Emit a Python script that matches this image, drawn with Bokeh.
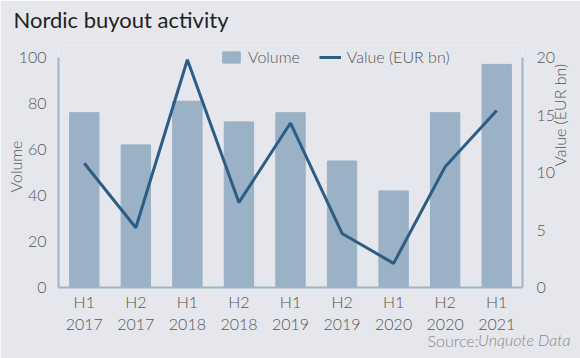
from math import pi
from bokeh.plotting import figure
from bokeh.models import LinearAxis, Range1d, Label, Legend, LegendItem, ColumnDataSource
from bokeh.embed import file_html
from bokeh.resources import INLINE

periods = ["H1\n2017", "H2\n2017", "H1\n2018", "H2\n2018", "H1\n2019",
           "H2\n2019", "H1\n2020", "H2\n2020", "H1\n2021"]
volume = [76, 62, 81, 72, 76, 55, 42, 76, 97]
value_eur_bn = [10.8, 5.2, 19.8, 7.4, 14.3, 4.7, 2.1, 10.5, 15.4]
volume_ticks = [0, 20, 40, 60, 80, 100]
value_ticks = [0, 5, 10, 15, 20]
VOL_MAX, VAL_MAX = 100, 20

BG = "#e6e7ed"
BAR = "#9ab1c6"
LINE = "#2c5d84"
AXIS = "#9ab6cc"
TXT = "#555555"
FONT = "Lato"
LIGHT = "Lato Light"
FS = "16px"

# plot area: axes span 230 px; frame is extended 12 px above so the legend is not clipped
AXIS_H, EXTRA_TOP = 230, 12
FRAME_H = AXIS_H + EXTRA_TOP
scale = FRAME_H / AXIS_H

src = ColumnDataSource(dict(x=periods, vol=volume, val=value_eur_bn))

p = figure(width=580, height=358, frame_width=464, frame_height=FRAME_H,
           x_range=periods, y_range=Range1d(0, VOL_MAX * scale),
           output_backend="svg", toolbar_location=None,
           background_fill_color=BG, border_fill_color=BG,
           min_border_left=58, min_border_right=58, min_border_top=57 - EXTRA_TOP,
           min_border_bottom=71, outline_line_color=None)
p.extra_y_ranges = {"val": Range1d(0, VAL_MAX * scale)}

bars = p.vbar(x="x", top="vol", width=0.57, color=BAR, source=src)
line = p.line(x="x", y="val", y_range_name="val", color=LINE, line_width=3, source=src)

right = LinearAxis(y_range_name="val")
p.add_layout(right, "right")

for ax in p.axis:
    ax.axis_line_color = AXIS
    ax.axis_line_width = 2
    ax.major_tick_line_color = None
    ax.minor_tick_line_color = None
    ax.major_label_text_font = LIGHT
    ax.major_label_text_font_size = FS
    ax.major_label_text_color = TXT
    ax.axis_label_text_font = LIGHT
    ax.axis_label_text_font_size = FS
    ax.axis_label_text_font_style = "normal"
    ax.axis_label_text_color = TXT
p.yaxis[0].ticker = volume_ticks
p.yaxis[0].bounds = (0, VOL_MAX)
right.ticker = value_ticks
right.bounds = (0, VAL_MAX)
p.yaxis[0].major_label_standoff = 6
right.major_label_standoff = 8
p.xaxis.major_label_standoff = -2
p.yaxis[0].axis_label = "Volume"
p.yaxis[0].axis_label_standoff = -9
right.axis_label = "Value (EUR bn)"
right.axis_label_standoff = 1
right.axis_label_orientation = pi / 2
p.xgrid.grid_line_color = None
p.ygrid.grid_line_color = None

p.add_layout(Label(x=-45, y=26, x_units="screen", y_units="screen",
                   text="Nordic buyout activity", text_font=FONT, text_font_size="22px",
                   text_color="#222222", text_baseline="alphabetic"), "above")

p.add_layout(Label(x=512, y=7, x_units="screen", y_units="screen",
                   text="Unquote Data", text_font=LIGHT, text_font_size=FS,
                   text_font_style="italic", text_color="#888888",
                   text_align="right", text_baseline="bottom"), "below")
p.add_layout(Label(x=420, y=25, x_units="screen", y_units="screen",
                   text="Source:", text_font=LIGHT, text_font_size=FS,
                   text_color="#888888", text_align="right", text_baseline="bottom"), "below")

legend = Legend(items=[LegendItem(label="Volume", renderers=[bars]),
                       LegendItem(label="Value (EUR bn)", renderers=[line])],
                orientation="horizontal", location=(162, 221),
                background_fill_alpha=0, border_line_color=None,
                label_text_font=LIGHT, label_text_font_size=FS,
                label_text_color=TXT, glyph_width=22, glyph_height=14,
                label_height=14, label_standoff=6,
                spacing=19, margin=0, padding=0)
p.add_layout(legend)

html = file_html(p, INLINE)
open("out.html", "w").write(html)
